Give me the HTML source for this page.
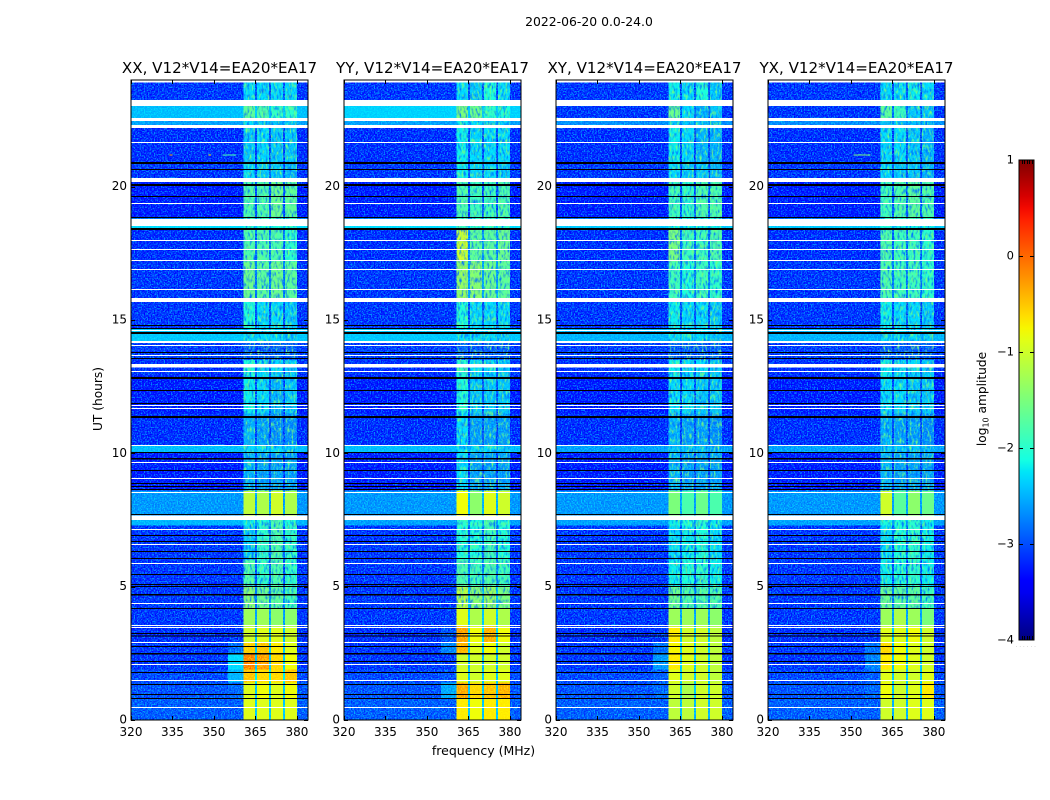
<!DOCTYPE html>
<html lang="en">
<head>
<meta charset="utf-8">
<title>2022-06-20 0.0-24.0</title>
<style>
html,body{margin:0;padding:0;background:#fff;width:1050px;height:800px;overflow:hidden}
svg{display:block}
text{font-family:"DejaVu Sans","Liberation Sans",sans-serif;fill:#000}
</style>
</head>
<body>
<svg id="fig" xmlns="http://www.w3.org/2000/svg" width="1050" height="800" viewBox="0 0 1050 800">
  <defs>
    <filter id="grainLight" x="0" y="0" width="100%" height="100%" color-interpolation-filters="sRGB">
      <feTurbulence type="fractalNoise" baseFrequency="0.7" numOctaves="1" seed="4"/>
      <feColorMatrix type="matrix" values="0 0 0 0 0  0 0 0 0 0.5  0 0 0 0 0  5 0 0 0 -2.3"/>
    </filter>
    <filter id="grainDark" x="0" y="0" width="100%" height="100%" color-interpolation-filters="sRGB">
      <feTurbulence type="fractalNoise" baseFrequency="0.7" numOctaves="1" seed="11"/>
      <feColorMatrix type="matrix" values="0 0 0 0 1  0 0 0 0 0.76  0 0 0 0 1  0 5 0 0 -2.2"/>
    </filter>
    <filter id="grainBandBlue" x="0" y="0" width="100%" height="100%" color-interpolation-filters="sRGB">
      <feTurbulence type="fractalNoise" baseFrequency="0.5 0.18" numOctaves="2" seed="7"/>
      <feColorMatrix type="matrix" values="0 0 0 0 0  0 0 0 0 0.45  0 0 0 0 1  3 0 0 0 -1.4"/>
    </filter>
    <filter id="grainBandGreen" x="0" y="0" width="100%" height="100%" color-interpolation-filters="sRGB">
      <feTurbulence type="fractalNoise" baseFrequency="0.5 0.18" numOctaves="2" seed="19"/>
      <feColorMatrix type="matrix" values="0 0 0 0 0.45  0 0 0 0 1  0 0 0 0 0.5  0 3 0 0 -1.5"/>
    </filter>
    <linearGradient id="jetGradient" x1="0" y1="1" x2="0" y2="0"></linearGradient>
  </defs>
  <text x="589" y="26" font-size="12.4" text-anchor="middle">2022-06-20 0.0-24.0</text>
  <g id="panels"></g>
  <text transform="translate(102,399) rotate(-90)" font-size="12.2" text-anchor="middle">UT (hours)</text>
  <text x="483.500" y="755" font-size="12.5" text-anchor="middle">frequency (MHz)</text>
  <g id="colorbar"></g>
  <text transform="translate(986,399) rotate(-90)" font-size="12.2" text-anchor="middle">log<tspan font-size="8" dy="2.500">10</tspan><tspan dy="-2.500"> amplitude</tspan></text>
</svg>
<script>
// ---------- data ----------
const panelTitles = ["XX, V12*V14=EA20*EA17", "YY, V12*V14=EA20*EA17", "XY, V12*V14=EA20*EA17", "YX, V12*V14=EA20*EA17"];
const freqTicks = [320, 335, 350, 365, 380];
const utTicks = [0, 5, 10, 15, 20];
const colorTicks = [1, 0, -1, -2, -3, -4];

// frequency channel edges (MHz) and which level column each channel reads
const freqEdges = [320, 355, 360.7, 364.8, 365.6, 369.9, 370.6, 375, 375.7, 380, 384];
const channelColumn = [0, 1, 2, 6, 3, 6, 4, 6, 5, 0];

// UT row edges (hours), top to bottom
const utEdges = [24, 23.02, 22.5, 22.2, 20.9, 20.2, 18.8, 18.4, 17.2, 15.7, 14.7, 14.2, 13.5, 12.9, 11.5, 10.3, 10.05, 8.6, 7.6, 7.3, 6, 5, 4.2, 3.5, 2.9, 2.5, 1.9, 1.4, 0.8, 0];

// log10 amplitude per row: [background, near-band, sub1, sub2, sub3, sub4, gap]
const xxLevels = [
[-3.15,-3.15,-2.3,-2.3,-2.3,-2.3,-3.0],[-2.45,-2.45,-1.7,-1.8,-2.0,-2.0,-2.4],[-2.6,-2.6,-2.3,-2.4,-2.4,-2.4,-2.6],
[-3.2,-3.2,-2.4,-2.3,-2.4,-2.4,-3.05],[-3.15,-3.15,-2.3,-2.4,-2.4,-2.5,-3.0],[-3.3,-3.3,-1.8,-1.8,-1.6,-1.7,-3.0],
[-2.3,-2.3,-2.1,-2.1,-2.1,-2.1,-2.4],[-3.2,-3.2,-1.8,-1.8,-1.8,-2.0,-2.9],[-3.15,-3.15,-1.6,-1.7,-1.6,-1.7,-2.8],
[-3.15,-3.15,-2.1,-2.3,-2.3,-2.4,-3.0],[-2.4,-2.4,-2.3,-2.3,-2.3,-2.4,-2.45],[-3.1,-3.1,-3.0,-3.0,-3.0,-3.0,-3.1],
[-3.2,-3.2,-2.1,-2.3,-2.3,-2.4,-3.0],[-3.3,-3.3,-2.2,-2.3,-2.5,-2.4,-3.0],[-3.2,-3.2,-2.5,-2.6,-2.7,-2.7,-3.05],
[-2.45,-2.45,-2.3,-2.3,-2.3,-2.4,-2.5],[-3.3,-3.3,-2.5,-2.6,-2.6,-2.6,-3.1],[-2.65,-2.65,-1.1,-1.2,-1.0,-1.2,-2.6],
[-2.5,-2.5,-2.2,-2.1,-1.8,-2.1,-2.6],[-3.15,-3.15,-2.4,-2.0,-1.8,-2.0,-2.9],[-3.15,-3.15,-1.8,-2.0,-1.8,-2.0,-3.0],
[-3.15,-3.15,-1.4,-1.6,-1.7,-1.9,-2.8],[-3.15,-3.15,-1.3,-1.3,-1.4,-1.4,-2.6],[-3.2,-3.15,-1.0,-0.9,-0.9,-1.0,-2.5],
[-3.15,-2.85,-0.55,-0.5,-0.7,-0.9,-2.4],[-3.15,-2.3,-0.15,-0.3,-0.6,-0.8,-2.4],[-3.05,-2.5,-0.5,-0.6,-0.6,-0.5,-2.2],
[-3.0,-2.9,-0.9,-0.8,-0.9,-0.8,-2.4],[-2.95,-2.95,-0.9,-0.9,-0.9,-0.9,-2.4]];
const yyLevels = [
[-3.15,-3.15,-2.3,-2.4,-2.1,-2.3,-3.0],[-2.35,-2.35,-1.5,-1.6,-2.0,-2.1,-2.4],[-2.6,-2.6,-2.2,-2.3,-2.3,-2.4,-2.6],
[-3.2,-3.2,-2.2,-2.3,-2.3,-2.3,-3.05],[-3.15,-3.15,-2.2,-2.3,-2.3,-2.4,-3.0],[-3.3,-3.3,-1.8,-1.9,-1.9,-1.8,-3.05],
[-2.3,-2.3,-1.9,-2.0,-2.0,-2.0,-2.4],[-3.2,-3.2,-1.0,-1.7,-1.7,-1.6,-2.7],[-3.15,-3.15,-1.3,-1.4,-1.6,-1.7,-2.6],
[-3.15,-3.15,-2.1,-2.3,-2.3,-2.3,-3.0],[-2.4,-2.4,-2.3,-2.3,-2.3,-2.4,-2.45],[-3.1,-3.1,-3.0,-3.0,-3.0,-3.0,-3.1],
[-3.2,-3.2,-2.0,-2.3,-2.3,-2.4,-3.0],[-3.3,-3.3,-2.1,-2.4,-2.4,-2.4,-3.0],[-3.2,-3.2,-2.3,-2.6,-2.6,-2.6,-3.05],
[-2.45,-2.45,-2.3,-2.3,-2.3,-2.4,-2.5],[-3.3,-3.3,-2.3,-2.6,-2.6,-2.6,-3.1],[-2.65,-2.65,-0.8,-1.4,-0.9,-1.0,-2.5],
[-2.6,-2.6,-2.0,-2.1,-1.8,-2.1,-2.6],[-3.15,-3.15,-2.1,-2.1,-1.9,-2.1,-2.9],[-3.15,-3.15,-1.8,-1.9,-1.8,-1.9,-2.8],
[-3.15,-3.15,-1.1,-1.4,-1.3,-1.5,-2.5],[-3.15,-3.15,-0.9,-1.2,-1.0,-1.2,-2.4],[-3.2,-3.0,-0.3,-0.8,-0.4,-0.8,-2.3],
[-3.15,-2.75,-0.4,-0.9,-0.8,-1.0,-2.4],[-3.15,-3.1,-1.0,-1.0,-1.0,-1.0,-2.5],[-3.05,-3.0,-0.9,-1.0,-0.9,-0.9,-2.4],
[-3.0,-2.55,-0.35,-0.6,-0.5,-0.4,-2.4],[-2.95,-2.95,-0.7,-0.8,-0.7,-0.7,-2.4]];
const xyLevels = [
[-3.15,-3.15,-2.2,-2.3,-2.1,-2.4,-3.0],[-3.15,-3.15,-1.6,-2.3,-2.5,-2.4,-2.9],[-2.7,-2.7,-2.4,-2.4,-2.4,-2.5,-2.7],
[-3.2,-3.2,-2.2,-2.3,-2.5,-2.5,-3.05],[-3.15,-3.15,-2.3,-2.4,-2.4,-2.5,-3.0],[-3.3,-3.3,-1.9,-2.0,-1.8,-1.8,-3.0],
[-2.4,-2.4,-2.2,-2.2,-2.2,-2.2,-2.5],[-3.2,-3.2,-1.5,-1.9,-1.9,-1.8,-2.9],[-3.15,-3.15,-1.9,-2.1,-1.9,-2.0,-2.8],
[-3.15,-3.15,-2.2,-2.3,-2.3,-2.4,-3.0],[-2.5,-2.5,-2.3,-2.3,-2.3,-2.4,-2.5],[-3.1,-3.1,-3.0,-3.0,-3.0,-3.0,-3.1],
[-3.2,-3.2,-2.2,-2.3,-2.3,-2.4,-3.0],[-3.3,-3.3,-2.3,-2.3,-2.4,-2.4,-3.0],[-3.2,-3.2,-2.5,-2.6,-2.6,-2.7,-3.05],
[-2.6,-2.6,-2.4,-2.4,-2.4,-2.5,-2.6],[-3.3,-3.3,-2.5,-2.6,-2.6,-2.6,-3.1],[-2.65,-2.65,-1.5,-1.8,-1.6,-1.8,-2.6],
[-2.6,-2.6,-2.2,-2.1,-2.0,-2.2,-2.6],[-3.15,-3.15,-2.3,-2.2,-2.1,-2.3,-2.9],[-3.15,-3.15,-2.2,-2.1,-2.0,-2.2,-3.0],
[-3.15,-3.15,-1.6,-1.8,-1.8,-1.8,-2.8],[-3.15,-3.15,-1.3,-1.3,-1.3,-1.4,-2.6],[-3.2,-3.15,-0.7,-1.0,-1.0,-1.1,-2.4],
[-3.15,-2.85,-0.75,-0.9,-1.0,-1.1,-2.4],[-3.15,-2.65,-0.7,-0.9,-1.0,-1.1,-2.4],[-3.05,-2.95,-0.9,-1.0,-1.0,-1.1,-2.4],
[-3.0,-2.9,-1.0,-1.2,-1.0,-1.0,-2.4],[-2.95,-2.95,-1.1,-1.1,-1.0,-1.0,-2.5]];
const yxLevels = [
[-3.15,-3.15,-2.3,-2.3,-2.2,-2.3,-3.0],[-3.15,-3.15,-1.7,-1.9,-2.4,-2.4,-2.9],[-2.7,-2.7,-2.4,-2.4,-2.4,-2.5,-2.7],
[-3.2,-3.2,-2.3,-2.3,-2.4,-2.5,-3.05],[-3.15,-3.15,-2.3,-2.4,-2.4,-2.5,-3.0],[-3.3,-3.3,-1.9,-1.8,-1.7,-1.8,-3.0],
[-2.4,-2.4,-2.1,-2.2,-2.2,-2.2,-2.5],[-3.2,-3.2,-1.8,-1.9,-1.9,-2.0,-2.9],[-3.15,-3.15,-1.8,-1.9,-1.9,-2.0,-2.8],
[-3.15,-3.15,-2.2,-2.3,-2.3,-2.4,-3.0],[-2.5,-2.5,-2.3,-2.3,-2.3,-2.4,-2.5],[-3.1,-3.1,-3.0,-3.0,-3.0,-3.0,-3.1],
[-3.2,-3.2,-2.2,-2.3,-2.3,-2.4,-3.0],[-3.3,-3.3,-2.3,-2.3,-2.4,-2.4,-3.0],[-3.2,-3.2,-2.5,-2.6,-2.6,-2.7,-3.05],
[-2.6,-2.6,-2.4,-2.4,-2.4,-2.5,-2.6],[-3.3,-3.3,-2.5,-2.6,-2.6,-2.6,-3.1],[-2.65,-2.65,-1.0,-1.7,-1.4,-1.6,-2.6],
[-2.6,-2.6,-2.1,-2.1,-2.0,-2.2,-2.6],[-3.15,-3.15,-2.3,-2.1,-2.0,-2.2,-2.9],[-3.15,-3.15,-2.2,-2.1,-2.0,-2.2,-3.0],
[-3.15,-3.15,-1.6,-1.7,-1.7,-1.9,-2.8],[-3.15,-3.15,-1.3,-1.2,-1.3,-1.5,-2.6],[-3.2,-3.15,-0.9,-0.9,-0.8,-1.0,-2.4],
[-3.15,-2.85,-0.6,-0.8,-0.9,-1.0,-2.4],[-3.15,-2.75,-0.7,-0.8,-0.9,-1.0,-2.4],[-3.05,-2.95,-0.9,-1.0,-1.0,-0.9,-2.4],
[-3.0,-2.9,-0.8,-1.0,-0.9,-0.7,-2.4],[-2.95,-2.95,-1.0,-1.0,-0.9,-0.9,-2.5]];
const panelLevels = [xxLevels, yyLevels, xyLevels, yxLevels];

// flagged time ranges (hours): white = no data, black = zeroed
const whiteFlagStart = [24,23.25,22.575,22.3125,21.675,20.325,19.3875,18.7875,18,17.6625,17.25,16.9125,16.1625,15.825,14.625,14.2125,14.0625,13.6875,13.35,13.0875,11.8125,11.7,10.3125,9.675,9.075,8.55,7.67,7.1625,6.6,5.8875,4.3875,3.5625,3.4875,2.925,2.1,1.5,0.4875];
const whiteFlagEnd = [23.9,23.025,22.4625,22.2,21.6375,20.175,19.35,18.525,17.9625,17.625,17.2125,16.875,16.125,15.675,14.5875,14.1375,14.025,13.65,13.22,13.05,11.775,11.6625,10.275,9.6375,9.0375,8.5125,7.5,7.125,6.5625,5.85,4.35,3.525,3.45,2.8875,2.0625,1.4625,0.45];
const blackFlagStart = [20.925,20.6625,20.1,19.65,18.8625,18.45,14.8125,14.7,14.55,13.8,13.575,12.8625,12.375,11.8875,11.4,10.05,9.825,9.375,8.8875,8.775,8.6625,7.725,6.9375,6.7125,6.3375,6.075,5.475,5.1,5.025,4.725,4.2,3.2625,3.17,2.775,2.5125,2.2125,1.8,1.35,0.975,0.825];
const blackFlagEnd = [20.85,20.625,20.025,19.6125,18.825,18.375,14.775,14.6625,14.475,13.7625,13.5375,12.7875,12.3375,11.85,11.325,10.0125,9.77,9.3375,8.85,8.7375,8.625,7.6875,6.9,6.675,6.3,6.0375,5.4375,5.0625,4.9875,4.67,4.1625,3.225,3.13,2.7375,2.456,2.175,1.7625,1.3125,0.9375,0.7875];

// narrow interference features
const rfiPanel = [0, 0, 0, 1, 2, 3];
const rfiFreqStart = [334, 348, 353, 321, 322, 351];
const rfiFreqEnd = [335, 349, 358, 332, 333, 357];
const rfiHour = [21.2, 21.2, 21.2, 18.0, 18.0, 21.2];
const rfiLevel = [-0.4, -0.6, -1.8, -2.0, -2.1, -1.5];

// UT spans where the sub-bands carry visible mottling
const mottleStart = [24, 7.6];
const mottleEnd = [8.6, 4.2];

// ---------- scales ----------
const NS = 'http://www.w3.org/2000/svg';
const panelLeft = [131, 344, 556, 768];
const plotW = 177, plotTop = 80, plotBottom = 720;
const xScale = (p, f) => panelLeft[p] + (f - 320) / 64 * plotW;
const yScale = h => plotBottom - h / 24 * (plotBottom - plotTop);
const cTop = 160, cBottom = 640, cLeft = 1019, cRight = 1034;
const cScale = v => cBottom - (v + 4) / 5 * (cBottom - cTop);

function lerpTable(t, table) {
  for (let i = 1; i < table.length; i++) {
    if (t <= table[i][0]) {
      const a = table[i - 1], b = table[i];
      return a[1] + (b[1] - a[1]) * (t - a[0]) / (b[0] - a[0]);
    }
  }
  return table[table.length - 1][1];
}
const jetR = [[0,0],[.35,0],[.66,1],[.89,1],[1,.5]];
const jetG = [[0,0],[.125,0],[.375,1],[.64,1],[.91,0],[1,0]];
const jetB = [[0,.5],[.11,1],[.34,1],[.65,0],[1,0]];
function jet(v) {
  const t = Math.max(0, Math.min(1, (v + 4) / 5));
  const c = x => Math.round(lerpTable(t, x) * 255);
  return 'rgb(' + c(jetR) + ',' + c(jetG) + ',' + c(jetB) + ')';
}
function mk(tag, attrs, parent) {
  const el = document.createElementNS(NS, tag);
  for (const k in attrs) el.setAttribute(k, attrs[k]);
  parent.appendChild(el);
  return el;
}

// ---------- panels ----------
const panelsGroup = document.getElementById('panels');
panelTitles.forEach((title, p) => {
  const g = mk('g', {}, panelsGroup);
  
  

  const titleEl = mk('text', {x: panelLeft[p] + plotW / 2, y: 73, 'font-size': 15.1, 'text-anchor': 'middle'}, g);
  
  
  titleEl.textContent = title;

  const heat = mk('g', {style: 'isolation:isolate', 'shape-rendering': 'crispEdges'}, g);
  
  
  panelLevels[p].forEach((row, r) => {
    channelColumn.forEach((col, c) => {
      const x0 = xScale(p, freqEdges[c]), x1 = xScale(p, freqEdges[c + 1]);
      const y0 = yScale(utEdges[r]), y1 = yScale(utEdges[r + 1]);
      const cell = mk('rect', {x: x0, y: y0, width: x1 - x0, height: y1 - y0, fill: jet(row[col])}, heat);
      
      
    });
  });
  const lightGrain = mk('rect', {x: panelLeft[p], y: plotTop, width: plotW, height: plotBottom - plotTop, filter: 'url(#grainLight)', style: 'mix-blend-mode:screen'}, heat);
  
  
  const darkGrain = mk('rect', {x: panelLeft[p], y: plotTop, width: plotW, height: plotBottom - plotTop, filter: 'url(#grainDark)', style: 'mix-blend-mode:color-burn'}, heat);
  
  

  // mottling inside the weak sub-band spans (decorative texture only)
  channelColumn.forEach((col, c) => {
    if (col < 2 || col > 5) return;
    const x0 = xScale(p, freqEdges[c]), x1 = xScale(p, freqEdges[c + 1]);
    mottleStart.forEach((h, i) => {
      const y0 = yScale(h), y1 = yScale(mottleEnd[i]);
      const blue = mk('rect', {x: x0, y: y0, width: x1 - x0, height: y1 - y0, filter: 'url(#grainBandBlue)'}, heat);
      
      
      const green = mk('rect', {x: x0, y: y0, width: x1 - x0, height: y1 - y0, filter: 'url(#grainBandGreen)'}, heat);
      
      
    });
  });

  rfiPanel.forEach((rp, i) => {
    if (rp !== p) return;
    const x0 = xScale(p, rfiFreqStart[i]), x1 = xScale(p, rfiFreqEnd[i]);
    const spot = mk('rect', {x: x0, y: yScale(rfiHour[i]), width: x1 - x0, height: 1, fill: jet(rfiLevel[i]), 'shape-rendering': 'crispEdges'}, g);
    
    
  });

  whiteFlagStart.forEach((h, i) => {
    const y0 = yScale(h), y1 = yScale(whiteFlagEnd[i]);
    const band = mk('rect', {x: panelLeft[p], y: y0, width: plotW, height: y1 - y0, fill: '#fff', 'shape-rendering': 'crispEdges'}, g);
    
    
  });
  blackFlagStart.forEach((h, i) => {
    const y0 = yScale(h), y1 = yScale(blackFlagEnd[i]);
    const band = mk('rect', {x: panelLeft[p], y: y0, width: plotW, height: y1 - y0, fill: '#000', 'shape-rendering': 'crispEdges'}, g);
    
    
  });

  const frame = mk('rect', {x: panelLeft[p], y: plotTop, width: plotW, height: plotBottom - plotTop, fill: 'none', stroke: '#000', 'stroke-width': 1}, g);
  
  

  freqTicks.forEach(f => {
    const x = Math.round(xScale(p, f)) + .5;
    const top = mk('line', {x1: x, x2: x, y1: plotTop, y2: plotTop + 4, stroke: '#000'}, g);
    
    
    const bot = mk('line', {x1: x, x2: x, y1: plotBottom, y2: plotBottom - 4, stroke: '#000'}, g);
    
    
    const lab = mk('text', {x: xScale(p, f), y: 736, 'font-size': 12, 'text-anchor': 'middle'}, g);
    
    
    lab.textContent = f;
  });
  utTicks.forEach(h => {
    const y = Math.round(yScale(h)) + .5;
    const left = mk('line', {x1: panelLeft[p], x2: panelLeft[p] + 4, y1: y, y2: y, stroke: '#000'}, g);
    
    
    const right = mk('line', {x1: panelLeft[p] + plotW, x2: panelLeft[p] + plotW - 4, y1: y, y2: y, stroke: '#000'}, g);
    
    
    const lab = mk('text', {x: panelLeft[p] - 4, y: yScale(h) + 3.500, 'font-size': 12, 'text-anchor': 'end'}, g);
    
    
    lab.textContent = h;
  });
});

// ---------- colorbar ----------
const grad = document.getElementById('jetGradient');
for (let i = 0; i <= 40; i++) {
  mk('stop', {offset: (i / 40), 'stop-color': jet(-4 + i / 40 * 5)}, grad);
}
const cb = document.getElementById('colorbar');
const cbBar = mk('rect', {x: cLeft, y: cTop, width: cRight - cLeft, height: cBottom - cTop, fill: 'url(#jetGradient)', stroke: '#000', 'stroke-width': 1}, cb);


colorTicks.forEach(v => {
  const y = Math.round(cScale(v)) + (v === 1 ? 0 : v === -4 ? 0 : .5);
  const l = mk('line', {x1: cLeft, x2: cLeft + 4, y1: y, y2: y, stroke: '#000'}, cb);
  
  
  const r = mk('line', {x1: cRight, x2: cRight - 4, y1: y, y2: y, stroke: '#000'}, cb);
  
  
  const lab = mk('text', {x: 1014, y: cScale(v) + 3.500, 'font-size': 11.500, 'text-anchor': 'end'}, cb);
  
  
  lab.textContent = String(v).replace('-', '\u2212');
});
for (let i = 1; i < 6; i++) {
  const x = Math.round(cLeft + i * (cRight - cLeft) / 6) + .5;
  const t = mk('line', {x1: x, x2: x, y1: cTop, y2: cTop + 4, stroke: '#000'}, cb);
  
  
  const b = mk('line', {x1: x, x2: x, y1: cBottom, y2: cBottom - 4, stroke: '#000'}, cb);
  
  
}
const dots = mk('text', {x: 1026, y: 647, 'font-size': 4, 'text-anchor': 'middle', fill: '#666', style: 'fill:#666;letter-spacing:.6px'}, cb);


dots.textContent = '. . . . . .';
</script>
</body>
</html>
